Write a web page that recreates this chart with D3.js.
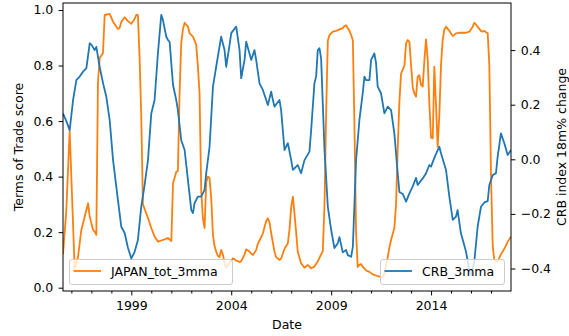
<!DOCTYPE html>
<html>
<head>
<meta charset="utf-8">
<script src="https://cdn.jsdelivr.net/npm/d3@7"></script>
<style>
  body { margin: 0; background: #fff; }
  svg { font-family: "DejaVu Sans", sans-serif; }
</style>
</head>
<body>
<svg id="chart" width="569" height="336"></svg>
<script>
// JAPAN terms of trade score (left axis), monthly, 3m moving average
const totMonths = [
  "1995-08","1995-10","1995-12","1996-03","1996-05","1996-07","1996-11","1996-12",
  "1997-02","1997-03","1997-04","1997-05","1997-06","1997-08","1997-09","1997-12",
  "1998-02","1998-05","1998-06","1998-07","1998-09","1998-11","1999-01","1999-03",
  "1999-04","1999-05","1999-06","1999-07","1999-08","1999-11","2000-01","2000-03",
  "2000-05","2000-07","2000-09","2000-11","2001-01","2001-02","2001-04","2001-05",
  "2001-06","2001-07","2001-08","2001-09","2001-11","2001-12","2002-02","2002-03",
  "2002-04","2002-05","2002-06","2002-07","2002-08","2002-09","2002-10","2002-11",
  "2002-12","2003-01","2003-02","2003-03","2003-04","2003-05","2003-06","2003-07",
  "2003-08","2003-09","2003-10","2003-12","2004-02","2004-04","2004-06","2004-07",
  "2004-09","2004-10","2004-12","2005-01","2005-02","2005-04","2005-05","2005-06",
  "2005-08","2005-10","2005-11","2005-12","2006-01","2006-03","2006-04","2006-06",
  "2006-07","2006-09","2006-11","2006-12","2007-01","2007-02","2007-03","2007-04",
  "2007-05","2007-07","2007-09","2007-11","2008-01","2008-03","2008-05","2008-07",
  "2008-08","2008-09","2008-10","2008-11","2008-12","2009-02","2009-04","2009-06",
  "2009-08","2009-09","2009-10","2009-11","2009-12","2010-01","2010-02","2010-03",
  "2010-04","2010-05","2010-06","2010-07","2010-08","2010-10","2010-12","2011-02",
  "2011-04","2011-06","2011-08","2011-09","2011-10","2011-11","2011-12","2012-01",
  "2012-03","2012-04","2012-05","2012-06","2012-07","2012-08","2012-09","2012-10",
  "2012-11","2012-12","2013-01","2013-02","2013-03","2013-04","2013-05","2013-06",
  "2013-07","2013-08","2013-09","2013-10","2013-11","2013-12","2014-01","2014-02",
  "2014-03","2014-04","2014-05","2014-06","2014-07","2014-08","2014-09","2014-10",
  "2014-12","2015-01","2015-02","2015-04","2015-06","2015-08","2015-10","2015-12",
  "2016-02","2016-03","2016-04","2016-05","2016-07","2016-08","2016-09","2016-10",
  "2016-11","2016-12","2017-01","2017-02","2017-03","2017-04","2017-05","2017-07",
  "2017-09","2017-11","2018-01"
];
const totValues = [
  0.12, 0.28, 0.565, 0.07, 0.11, 0.208, 0.304, 0.256,
  0.208, 0.202, 0.19, 0.737, 0.827, 0.845, 0.982, 0.986,
  0.958, 0.932, 0.935, 0.957, 0.974, 0.96, 0.95, 0.968,
  0.982, 0.982, 0.83, 0.62, 0.30, 0.251, 0.215, 0.184,
  0.166, 0.17, 0.174, 0.179, 0.168, 0.376, 0.417, 0.42,
  0.70, 0.88, 0.93, 0.954, 0.94, 0.916, 0.904, 0.89,
  0.875, 0.80, 0.70, 0.35, 0.25, 0.215, 0.38, 0.40,
  0.395, 0.32, 0.19, 0.15, 0.13, 0.115, 0.11, 0.136,
  0.12, 0.09, 0.072, 0.09, 0.106, 0.098, 0.093, 0.095,
  0.12, 0.138, 0.13, 0.122, 0.118, 0.136, 0.158, 0.17,
  0.195, 0.24, 0.25, 0.236, 0.196, 0.13, 0.11, 0.10,
  0.105, 0.14, 0.16, 0.21, 0.29, 0.328, 0.27, 0.20,
  0.13, 0.088, 0.072, 0.082, 0.07, 0.076, 0.095, 0.12,
  0.132, 0.30, 0.63, 0.89, 0.91, 0.922, 0.925, 0.93,
  0.935, 0.942, 0.945, 0.934, 0.925, 0.91, 0.89, 0.60,
  0.20, 0.075, 0.082, 0.085, 0.075, 0.062, 0.057, 0.048,
  0.044, 0.04, 0.038, 0.05, 0.08, 0.11, 0.145, 0.172,
  0.215, 0.30, 0.50, 0.67, 0.77, 0.785, 0.80, 0.88,
  0.892, 0.885, 0.80, 0.72, 0.70, 0.688, 0.76, 0.765,
  0.73, 0.724, 0.82, 0.894, 0.82, 0.66, 0.54, 0.538,
  0.796, 0.66, 0.508, 0.62, 0.80, 0.892, 0.93, 0.94,
  0.925, 0.915, 0.906, 0.916, 0.918, 0.918, 0.918, 0.922,
  0.94, 0.954, 0.948, 0.94, 0.925, 0.922, 0.925, 0.92,
  0.916, 0.80, 0.40, 0.15, 0.10, 0.094, 0.095, 0.12,
  0.14, 0.165, 0.184
];

// CRB index 18m % change (right axis), 3m moving average
const crbMonths = [
  "1995-08","1995-10","1995-12","1996-02","1996-04","1996-06","1996-08","1996-10",
  "1996-12","1997-01","1997-03","1997-04","1997-06","1997-08","1997-10","1997-12",
  "1998-02","1998-05","1998-07","1998-09","1998-11","1999-01","1999-03","1999-05",
  "1999-07","1999-09","1999-11","2000-01","2000-03","2000-05","2000-07","2000-08",
  "2000-10","2000-11","2000-12","2001-02","2001-04","2001-05","2001-07","2001-09",
  "2001-11","2002-01","2002-02","2002-03","2002-05","2002-07","2002-09","2002-10",
  "2002-12","2003-02","2003-04","2003-07","2003-09","2003-10","2003-12","2004-01",
  "2004-04","2004-06","2004-07","2004-09","2004-10","2005-01","2005-03","2005-04",
  "2005-06","2005-08","2005-11","2006-01","2006-02","2006-03","2006-06","2006-07",
  "2006-09","2006-11","2007-01","2007-02","2007-05","2007-07","2007-09","2007-12",
  "2008-01","2008-03","2008-04","2008-05","2008-06","2008-07","2008-09","2008-11",
  "2009-01","2009-03","2009-05","2009-06","2009-08","2009-10","2009-11","2010-01",
  "2010-02","2010-04","2010-06","2010-08","2010-09","2010-10","2010-12","2011-01",
  "2011-03","2011-04","2011-05","2011-07","2011-09","2011-11","2012-01","2012-03",
  "2012-05","2012-06","2012-08","2012-10","2012-12","2013-02","2013-04","2013-05",
  "2013-08","2013-10","2013-12","2014-01","2014-03","2014-06","2014-07","2014-10",
  "2014-12","2015-02","2015-04","2015-05","2015-07","2015-10","2015-12","2016-01",
  "2016-03","2016-05","2016-07","2016-09","2016-11","2016-12","2017-02","2017-04",
  "2017-05","2017-07","2017-09","2017-11","2018-01"
];
const crbValues = [
  0.168, 0.14, 0.107, 0.217, 0.29, 0.303, 0.321, 0.333,
  0.425, 0.42, 0.40, 0.412, 0.339, 0.28, 0.229, 0.144,
  -0.003, -0.149, -0.247, -0.27, -0.325, -0.363, -0.34, -0.296,
  -0.174, -0.094, -0.003, 0.168, 0.217, 0.388, 0.529, 0.51,
  0.449, 0.437, 0.43, 0.272, 0.217, 0.18, 0.07, 0.034,
  -0.076, -0.186, -0.197, -0.161, -0.137, -0.137, -0.112, -0.051,
  0.046, 0.266, 0.339, 0.449, 0.40, 0.339, 0.418, 0.462,
  0.486, 0.40, 0.297, 0.365, 0.431, 0.364, 0.40, 0.364,
  0.278, 0.254, 0.199, 0.248, 0.217, 0.193, 0.217, 0.18,
  0.034, 0.059, -0.003, -0.039, -0.021, -0.051, -0.003, 0.028,
  0.107, 0.278, 0.303, 0.40, 0.407, 0.37, 0.034, -0.174,
  -0.259, -0.325, -0.308, -0.285, -0.341, -0.332, -0.351, -0.357,
  -0.321, -0.003, 0.144, 0.242, 0.303, 0.29, 0.29, 0.364,
  0.388, 0.353, 0.266, 0.242, 0.168, 0.193, 0.18, 0.095,
  -0.051, -0.12, -0.127, -0.155, -0.125, -0.098, -0.068, -0.094,
  -0.07, -0.051, -0.021, -0.027, 0.005, 0.046, 0.022, -0.039,
  -0.137, -0.222, -0.21, -0.186, -0.271, -0.338, -0.405, -0.424,
  -0.376, -0.247, -0.174, -0.158, -0.153, -0.094, -0.058, -0.051,
  0.008, 0.095, 0.059, 0.016, 0.034
];

// tick labels
const majorYears = [1999, 2004, 2009, 2014];
const leftTicks = [0, 0.2, 0.4, 0.6, 0.8, 1.0];
const rightTicks = [-0.4, -0.2, 0, 0.2, 0.4];

const parseMonth = d3.timeParse("%Y-%m");
const tot = totMonths.map((m, i) => ({ date: parseMonth(m), value: totValues[i] }));
const crb = crbMonths.map((m, i) => ({ date: parseMonth(m), value: crbValues[i] }));

// plot area
const plotLeft = 63, plotRight = 511, plotTop = 3, plotBottom = 291;
const orange = "#ff7f0e", blue = "#1f77b4";
const fontSize = 12.5;

const svg = d3.select("#chart");

// scales
const xScale = d3.scaleTime()
  .domain([parseMonth("1995-08"), parseMonth("2018-01")])
  .range([plotLeft, plotRight]);
const yLeft = d3.scaleLinear().domain([-0.0119, 1.0252]).range([plotBottom, plotTop]);
const yRight = d3.scaleLinear().domain([-0.4824, 0.5725]).range([plotBottom, plotTop]);

svg.append("defs").append("clipPath").attr("id", "plot-clip")
  .append("rect")
  .attr("x", plotLeft).attr("y", plotTop)
  .attr("width", plotRight - plotLeft).attr("height", plotBottom - plotTop);

// axes
const xAxisMajor = d3.axisBottom(xScale)
  .tickValues(majorYears.map((y) => new Date(y, 0, 1)))
  .tickFormat(d3.timeFormat("%Y"))
  .tickSize(4.4)
  .tickPadding(6);
const minorYears = d3.range(1996, 2018).filter((y) => !majorYears.includes(y));
const xAxisMinor = d3.axisBottom(xScale)
  .tickValues(minorYears.map((y) => new Date(y, 0, 1)))
  .tickFormat("")
  .tickSize(2.5);
const yAxisLeft = d3.axisLeft(yLeft)
  .tickValues(leftTicks)
  .tickFormat(d3.format(".1f"))
  .tickSize(4.4)
  .tickPadding(5.3);
const yAxisRight = d3.axisRight(yRight)
  .tickValues(rightTicks)
  .tickFormat(d3.format(".1f"))
  .tickSize(4.4)
  .tickPadding(5.3);

function styleAxis(g) {
  g.attr("font-family", null).attr("font-size", null);
  g.select(".domain").remove();
  g.selectAll("line").attr("stroke", "#000").attr("stroke-width", 1);
  g.selectAll("text").attr("fill", "#000").style("font-size", fontSize + "px");
}

svg.append("g").attr("transform", `translate(0, ${plotBottom})`).call(xAxisMinor).call(styleAxis);
svg.append("g").attr("transform", `translate(0, ${plotBottom})`).call(xAxisMajor).call(styleAxis);
svg.append("g").attr("transform", `translate(${plotLeft}, 0)`).call(yAxisLeft).call(styleAxis);
svg.append("g").attr("transform", `translate(${plotRight}, 0)`).call(yAxisRight).call(styleAxis);

// orange line (left axis)
const totLine = d3.line().x((d) => xScale(d.date)).y((d) => yLeft(d.value));
svg.append("path")
  .datum(tot)
  .attr("clip-path", "url(#plot-clip)")
  .attr("fill", "none")
  .attr("stroke", orange)
  .attr("stroke-width", 1.8)
  .attr("stroke-linejoin", "round")
  .attr("d", totLine);

// legend helper, box like matplotlib's
function addLegend(x, w, label, color) {
  const g = svg.append("g").attr("transform", `translate(${x}, 259.5)`);
  g.append("rect")
    .attr("width", w).attr("height", 25)
    .attr("rx", 2.5)
    .attr("fill", "#fff").attr("fill-opacity", 0.8)
    .attr("stroke", "#ccc").attr("stroke-width", 1);
  g.append("line")
    .attr("x1", 4).attr("x2", 31.5)
    .attr("y1", 11.5).attr("y2", 11.5)
    .attr("stroke", color).attr("stroke-width", 1.8);
  g.append("text")
    .attr("x", 41.5).attr("y", 16)
    .style("font-size", fontSize + "px")
    .text(label);
}

addLegend(69.5, 163, "JAPAN_tot_3mma", orange);

// blue line (right axis), drawn above the first legend
const crbLine = d3.line().x((d) => xScale(d.date)).y((d) => yRight(d.value));
svg.append("path")
  .datum(crb)
  .attr("clip-path", "url(#plot-clip)")
  .attr("fill", "none")
  .attr("stroke", blue)
  .attr("stroke-width", 1.8)
  .attr("stroke-linejoin", "round")
  .attr("d", crbLine);

addLegend(380.5, 124, "CRB_3mma", blue);

// frame
svg.append("rect")
  .attr("x", plotLeft).attr("y", plotTop)
  .attr("width", plotRight - plotLeft).attr("height", plotBottom - plotTop)
  .attr("fill", "none").attr("stroke", "#000").attr("stroke-width", 1);

// axis labels
svg.append("text")
  .attr("transform", `translate(23, ${(plotTop + plotBottom) / 2}) rotate(-90)`)
  .attr("text-anchor", "middle")
  .style("font-size", fontSize + "px")
  .text("Terms of Trade score");
svg.append("text")
  .attr("transform", `translate(566, ${(plotTop + plotBottom) / 2}) rotate(-90)`)
  .attr("text-anchor", "middle")
  .style("font-size", fontSize + "px")
  .text("CRB index 18m% change");
svg.append("text")
  .attr("x", (plotLeft + plotRight) / 2).attr("y", 328.5)
  .attr("text-anchor", "middle")
  .style("font-size", fontSize + "px")
  .text("Date");
</script>
</body>
</html>
